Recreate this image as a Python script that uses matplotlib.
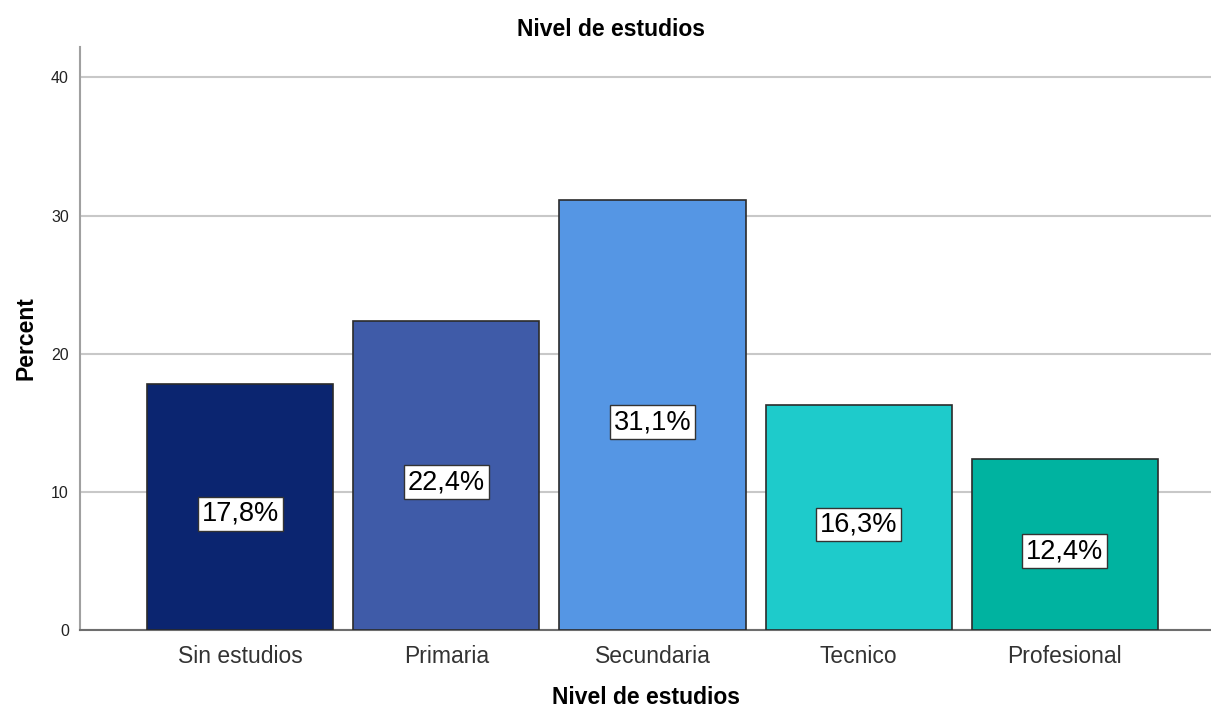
import matplotlib.pyplot as plt
import numpy as np

# niveles de estudio y porcentajes
niveles = ["Sin estudios", "Primaria", "Secundaria", "Tecnico", "Profesional"]
porcentajes = [17.8, 22.4, 31.1, 16.3, 12.4]
colores = ["#0b2570", "#3f5ba8", "#5596e4", "#1ecbcb", "#00b3a0"]

plt.rcParams['font.family'] = ['Liberation Sans', 'DejaVu Sans']

fig = plt.figure(figsize=(12.11, 7.11), dpi=100)
ax = fig.add_axes([80 / 1211, 81 / 711, 1131 / 1211, 583 / 711])

x = np.arange(len(niveles))
ax.bar(x, porcentajes, width=0.903, color=colores, edgecolor="#2b2b2b",
       linewidth=1.2, zorder=3)

# etiqueta de porcentaje en el centro de cada barra
for xi, v in zip(x, porcentajes):
    ax.text(xi, v / 2 - 0.5, f"{v:.1f}%".replace(".", ","), ha="center", va="center",
            fontsize=19.5, color="black", zorder=4,
            bbox=dict(boxstyle="square,pad=0.14", facecolor="white",
                      edgecolor="#333333", linewidth=1))

ax.set_xlim(-0.777, 4.709)
ax.set_ylim(0, 42.2)
ax.set_yticks([0, 10, 20, 30, 40])
ax.yaxis.grid(True, color="#c8c8c8", linewidth=1.5, zorder=0)
ax.set_axisbelow(True)

ax.set_xticks(x)
ax.set_xticklabels(niveles, fontsize=16.5, color="#333333")
ax.tick_params(axis="y", labelsize=11.5, length=0, pad=8, colors="#222222")
ax.tick_params(axis="x", length=0, pad=11)

for s in ["top", "right"]:
    ax.spines[s].set_visible(False)
ax.spines["left"].set_color("#a0a0a0")
ax.spines["left"].set_linewidth(1.5)
ax.spines["bottom"].set_color("#6e6e6e")
ax.spines["bottom"].set_linewidth(1.5)

ax.set_ylabel("Percent", fontsize=16.5, fontweight="bold", labelpad=10)
ax.set_xlabel("Nivel de estudios", fontsize=16.5, fontweight="bold", labelpad=13)
fig.text(611 / 1211, 1 - 30 / 711, "Nivel de estudios", ha="center", va="center",
         fontsize=16.5, fontweight="bold")

fig.savefig("out.png", dpi=100, facecolor="white")
